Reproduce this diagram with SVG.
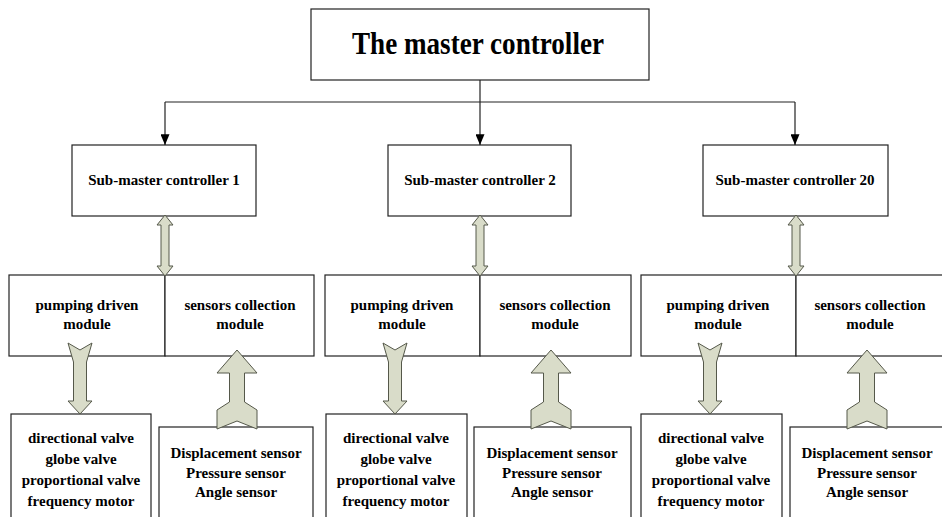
<svg xmlns="http://www.w3.org/2000/svg" width="942" height="517" viewBox="0 0 942 517">
<defs>
<style>
.box{fill:#fff;stroke:#222;stroke-width:1.2}
.t{font-family:"Liberation Serif","Times New Roman",serif;font-weight:bold;font-size:15px;fill:#000;text-anchor:middle}
.big{font-size:31px}
.ln{fill:none;stroke:#222;stroke-width:1.2}
.fat{fill:#d9dcc9;stroke:#55584a;stroke-width:1}
</style>
<marker id="ah" viewBox="0 0 12 10" refX="12" refY="5" markerWidth="12" markerHeight="9" orient="auto" markerUnits="userSpaceOnUse">
<path d="M0,0 L12,5 L0,10 z" fill="#000"/>
</marker>
<polygon id="dbl" points="165,215 173,225 169,225 169,266 173,266 165,276 157,266 161,266 161,225 157,225"/>
<polygon id="dn" points="68,343 80,350 92,343 86.5,362 86.5,401 92,401 80,414 68,401 73.5,401 73.5,362"/>
<polygon id="up" points="237,350 257,373 244.5,373 244.5,402 257,410 257,429 237,421 217,429 217,410 229.5,402 229.5,373 217,373"/>
</defs>
<rect width="942" height="517" fill="#fff"/>

<g id="master">
<rect class="box" x="311" y="9" width="338" height="71"/>
<text class="t big" x="478" y="54" textLength="252" lengthAdjust="spacingAndGlyphs">The master controller</text>
</g>

<g id="sub1"><rect class="box" x="72" y="145" width="184" height="71"/><text class="t" x="164" y="185">Sub-master controller 1</text></g>
<g id="sub2"><rect class="box" x="388" y="145" width="183" height="71"/><text class="t" x="480" y="185">Sub-master controller 2</text></g>
<g id="sub20"><rect class="box" x="703" y="145" width="185" height="71"/><text class="t" x="795" y="185">Sub-master controller 20</text></g>

<g id="pump1"><rect class="box" x="9" y="275" width="156" height="81"/><text class="t" x="87" y="310">pumping driven</text><text class="t" x="87" y="329">module</text></g>
<g id="sens1"><rect class="box" x="165" y="275" width="149" height="81"/><text class="t" x="240" y="310">sensors collection</text><text class="t" x="240" y="329">module</text></g>
<g id="pump2"><rect class="box" x="325" y="275" width="155" height="81"/><text class="t" x="402" y="310">pumping driven</text><text class="t" x="402" y="329">module</text></g>
<g id="sens2"><rect class="box" x="480" y="275" width="151" height="81"/><text class="t" x="555" y="310">sensors collection</text><text class="t" x="555" y="329">module</text></g>
<g id="pump3"><rect class="box" x="641" y="275" width="155" height="81"/><text class="t" x="718" y="310">pumping driven</text><text class="t" x="718" y="329">module</text></g>
<g id="sens3"><rect class="box" x="796" y="275" width="150" height="81"/><text class="t" x="870" y="310">sensors collection</text><text class="t" x="870" y="329">module</text></g>

<g id="act1"><rect class="box" x="11" y="414" width="140" height="110"/>
<text class="t" x="81" y="443">directional valve</text><text class="t" x="81" y="464">globe valve</text><text class="t" x="81" y="485">proportional valve</text><text class="t" x="81" y="506">frequency motor</text></g>
<g id="sensors1"><rect class="box" x="159" y="427" width="154" height="100"/>
<text class="t" x="236" y="458">Displacement sensor</text><text class="t" x="236" y="478">Pressure sensor</text><text class="t" x="236" y="497">Angle sensor</text></g>
<g id="act2"><rect class="box" x="326" y="414" width="141" height="110"/>
<text class="t" x="396" y="443">directional valve</text><text class="t" x="396" y="464">globe valve</text><text class="t" x="396" y="485">proportional valve</text><text class="t" x="396" y="506">frequency motor</text></g>
<g id="sensors2"><rect class="box" x="474" y="427" width="157" height="100"/>
<text class="t" x="552" y="458">Displacement sensor</text><text class="t" x="552" y="478">Pressure sensor</text><text class="t" x="552" y="497">Angle sensor</text></g>
<g id="act3"><rect class="box" x="641" y="414" width="141" height="110"/>
<text class="t" x="711" y="443">directional valve</text><text class="t" x="711" y="464">globe valve</text><text class="t" x="711" y="485">proportional valve</text><text class="t" x="711" y="506">frequency motor</text></g>
<g id="sensors3"><rect class="box" x="790" y="427" width="156" height="100"/>
<text class="t" x="867" y="458">Displacement sensor</text><text class="t" x="867" y="478">Pressure sensor</text><text class="t" x="867" y="497">Angle sensor</text></g>

<g id="connectors">
<path class="ln" d="M480,80 V145" marker-end="url(#ah)"/>
<path class="ln" d="M165,102 H795"/>
<path class="ln" d="M165,102 V145" marker-end="url(#ah)"/>
<path class="ln" d="M795,102 V145" marker-end="url(#ah)"/>
<use href="#dbl" class="fat"/>
<use href="#dbl" class="fat" transform="translate(315,0)"/>
<use href="#dbl" class="fat" transform="translate(631,0)"/>
<use href="#dn" class="fat"/>
<use href="#dn" class="fat" transform="translate(315,0)"/>
<use href="#dn" class="fat" transform="translate(630,0)"/>
<use href="#up" class="fat"/>
<use href="#up" class="fat" transform="translate(314,0)"/>
<use href="#up" class="fat" transform="translate(630,0)"/>
</g>
</svg>
